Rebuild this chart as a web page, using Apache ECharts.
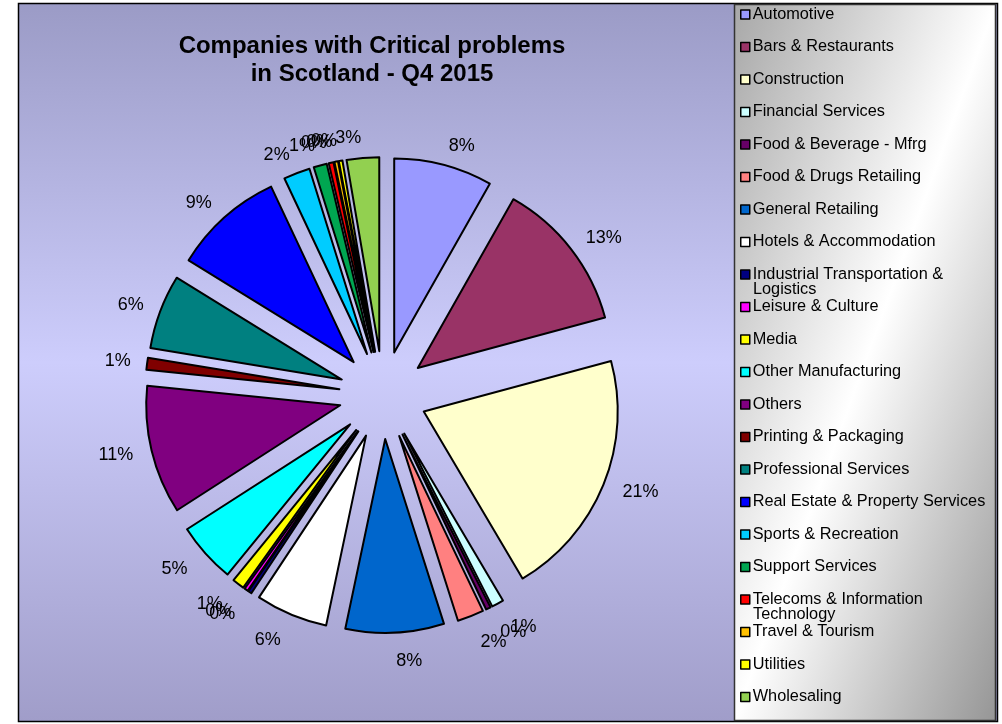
<!DOCTYPE html>
<html>
<head>
<meta charset="utf-8">
<script src="https://cdn.jsdelivr.net/npm/echarts@6/dist/echarts.min.js"></script>
<style>
html,body{margin:0;padding:0;background:#fff;}
#chart{width:1002px;height:724px;}
</style>
</head>
<body>
<div id="chart"></div>
<script>
const titleLines = ['Companies with Critical problems', 'in Scotland - Q4 2015'];
const categories = [
  'Automotive', 'Bars & Restaurants', 'Construction', 'Financial Services',
  'Food & Beverage - Mfrg', 'Food & Drugs Retailing', 'General Retailing',
  'Hotels & Accommodation', 'Industrial Transportation & Logistics',
  'Leisure & Culture', 'Media', 'Other Manufacturing', 'Others',
  'Printing & Packaging', 'Professional Services', 'Real Estate & Property Services',
  'Sports & Recreation', 'Support Services', 'Telecoms & Information Technology',
  'Travel & Tourism', 'Utilities', 'Wholesaling'
];
const shares = [
  8.2, 12.6, 20.7, 1.0,
  0.4, 2.2, 8.2,
  6.0, 0.3,
  0.3, 1.0, 5.0, 10.7,
  1.0, 6.2, 9.2,
  2.2, 1.1, 0.4,
  0.3, 0.3, 2.7
];
const colors = [
  '#9999FF', '#993366', '#FFFFCC', '#CCFFFF',
  '#660066', '#FF8080', '#0066CC',
  '#FFFFFF', '#000080',
  '#FF00FF', '#FFFF00', '#00FFFF', '#800080',
  '#800000', '#008080', '#0000FF',
  '#00CCFF', '#00A651', '#FF0000',
  '#FFC000', '#FFFF00', '#92D050'
];
// legend wrapping as in the original (first line shown in legend, rest overflows below)
const legendWrap = {
  'Industrial Transportation & Logistics': ['Industrial Transportation &', 'Logistics'],
  'Telecoms & Information Technology': ['Telecoms & Information', 'Technology']
};

const chart = echarts.init(document.getElementById('chart'), null, {renderer: 'canvas'});

const FONT = '"Liberation Sans", Arial, sans-serif';
const LEG_TOP = 6, LEG_STEP = 32.5, LEG_LINE = 17;
const extraTexts = [];
categories.forEach((c, i) => {
  if (legendWrap[c]) {
    extraTexts.push({
      type: 'text', left: 753, top: LEG_TOP + i * LEG_STEP + LEG_LINE - 1, z: 10,
      style: {text: legendWrap[c][1], font: '16.3px ' + FONT, fill: '#000'}
    });
  }
});

// legend box geometry and diagonal gradient (white along the top-right/bottom-left diagonal)
const LB = {x: 734.5, y: 4.5, w: 261, h: 716};
const gs = 2 * LB.w * LB.h / (LB.w * LB.w + LB.h * LB.h);

// label distance: a bit further out for labels below the pie (Excel-like placement)
const total = shares.reduce((a, b) => a + b, 0);
let cum = 0;
const labelLens = shares.map(v => {
  const mid = (cum + v / 2) / total * 2 * Math.PI;
  cum += v;
  const c = Math.cos(mid);
  return c > 0 ? 16 + 4 * c : 16 - 12 * c;
});

const option = {
  animation: false,
  backgroundColor: '#ffffff',
  title: {
    text: titleLines.join('\n'),
    left: 372, top: 32, padding: 0, textAlign: 'center',
    textStyle: {fontFamily: FONT, fontSize: 24, fontWeight: 'bold', lineHeight: 28, color: '#000'}
  },
  graphic: [
    {
      type: 'rect', z: -10, silent: true,
      shape: {x: 18.5, y: 3.5, width: 979, height: 718},
      style: {
        fill: new echarts.graphic.LinearGradient(0, 0, 0, 1, [
          {offset: 0, color: '#9b9bc6'},
          {offset: 0.5, color: '#cdcdfc'},
          {offset: 1, color: '#a09dc9'}
        ]),
        stroke: '#000', lineWidth: 1.5
      }
    },
    {
      type: 'rect', z: -9, silent: true,
      shape: {x: LB.x, y: LB.y, width: LB.w, height: LB.h},
      style: {
        fill: new echarts.graphic.LinearGradient(
          LB.x, LB.y, LB.x + gs * LB.h, LB.y + gs * LB.w, [
          {offset: 0, color: '#a8a8a8'},
          {offset: 0.5, color: '#ffffff'},
          {offset: 1, color: '#969696'}
        ], true),
        stroke: '#333', lineWidth: 1.5
      }
    }
  ].concat(extraTexts),
  legend: {
    orient: 'vertical',
    left: 740, top: LEG_TOP,
    padding: 0,
    itemWidth: 9, itemHeight: 9, itemGap: LEG_STEP - LEG_LINE,
    icon: 'rect',
    selectedMode: false,
    data: categories,
    formatter: function (name) { return legendWrap[name] ? legendWrap[name][0] : name; },
    itemStyle: {borderColor: '#000', borderWidth: 1.5},
    textStyle: {fontFamily: FONT, fontSize: 16.3, lineHeight: LEG_LINE, color: '#000', padding: [0, 0, 0, -2]}
  },
  series: [{
    type: 'pie',
    center: [383, 395],
    radius: 194,
    startAngle: 90,
    clockwise: true,
    avoidLabelOverlap: false,
    selectedMode: 'multiple',
    selectedOffset: 44,
    emphasis: {disabled: true},
    select: {itemStyle: {borderColor: '#000', borderWidth: 2}},
    itemStyle: {borderColor: '#000', borderWidth: 2},
    labelLayout: {hideOverlap: false},
    label: {
      show: true, position: 'outside', distanceToLabelLine: 0,
      fontFamily: FONT, fontSize: 18, color: '#000',
      formatter: function (p) { return Math.round(p.percent) + '%'; }
    },
    labelLine: {show: false, length: 20, length2: 0},
    data: categories.map((c, i) => ({
      name: c, value: shares[i], selected: true,
      itemStyle: {color: colors[i]},
      select: {itemStyle: {color: colors[i]}},
      labelLine: {show: false, length: labelLens[i], length2: 0}
    }))
  }]
};
chart.setOption(option);
</script>
</body>
</html>
